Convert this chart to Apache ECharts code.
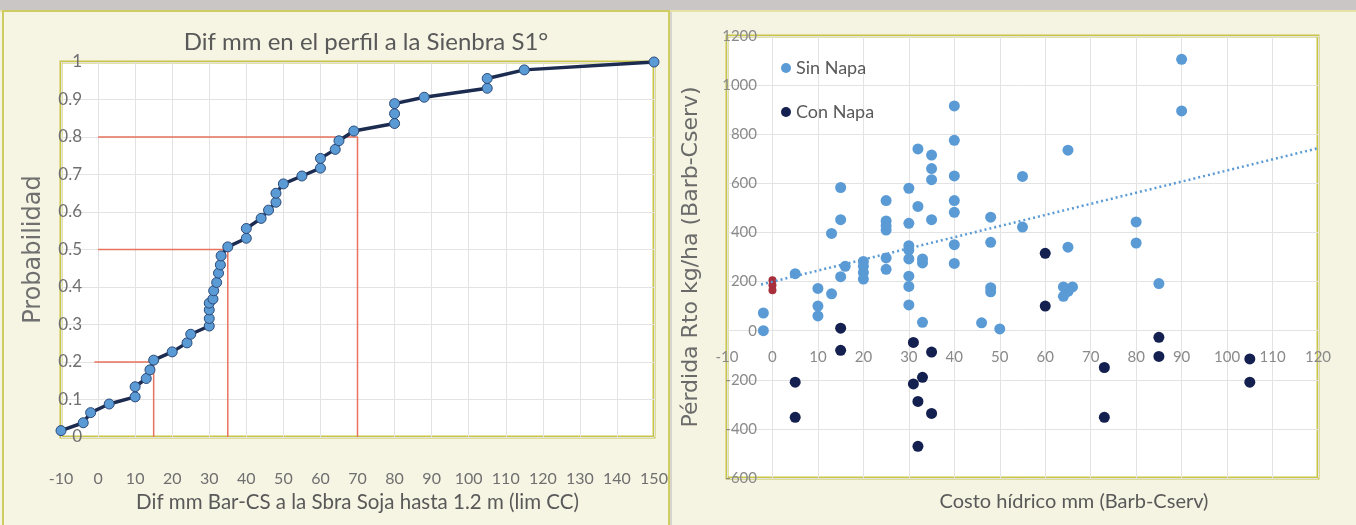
<!DOCTYPE html>
<html>
<head>
<meta charset="utf-8">
<script src="https://cdn.jsdelivr.net/npm/echarts@6/dist/echarts.min.js"></script>
<style>
  html, body { margin: 0; padding: 0; background: #f5f3e1; }
  #chart { width: 1356px; height: 525px; }
</style>
</head>
<body>
<div id="chart"></div>
<script>
// Left panel: cumulative probability of the soil-water difference at sowing
const cdfX = [-10, -4, -2, 3, 10, 10, 13, 14, 15, 20, 24, 25, 30, 30, 30, 30, 31, 31.2, 32, 32.5, 33, 33.2, 35,
  40, 40, 44, 46, 48, 48, 50, 55, 60, 60, 64, 65, 69, 80, 80, 80, 88, 105, 105, 115, 150];
const cdfP = [0.017, 0.038, 0.065, 0.088, 0.107, 0.134, 0.156, 0.179, 0.205, 0.227, 0.251, 0.274, 0.296, 0.316,
  0.339, 0.357, 0.368, 0.39, 0.412, 0.437, 0.459, 0.483, 0.507, 0.53, 0.556, 0.583, 0.605, 0.626, 0.65, 0.675,
  0.696, 0.717, 0.743, 0.767, 0.79, 0.816, 0.836, 0.862, 0.889, 0.906, 0.93, 0.956, 0.979, 1.0];

// Reference guides: probability level, where the guide starts and the x it meets on the curve
const refLevels = [0.2, 0.5, 0.8];
const refStartX = [-1, 0, 0];
const refCrossX = [15, 35, 70];

// Right panel: yield loss vs water cost
const sinNapa = [
  [-2, 72], [-2, 0], [5, 232], [10, 172], [10, 100], [10, 60], [13, 150], [13, 396], [15, 583], [15, 452],
  [15, 220], [16, 262], [20, 282], [20, 262], [20, 237], [20, 210], [25, 530], [25, 447], [25, 427], [25, 410],
  [25, 296], [25, 250], [30, 580], [30, 437], [30, 346], [30, 328], [30, 292], [30, 222], [30, 180], [30, 105],
  [32, 740], [32, 506], [33, 292], [33, 276], [33, 34], [35, 715], [35, 660], [35, 615], [35, 452], [40, 915],
  [40, 775], [40, 630], [40, 530], [40, 482], [40, 350], [40, 274], [46, 32], [48, 462], [48, 360], [48, 175],
  [48, 158], [50, 7], [55, 628], [55, 422], [64, 178], [66, 178], [65, 160], [64, 140], [65, 735], [65, 340],
  [80, 443], [80, 357], [85, 192], [90, 1105], [90, 895]
];
const conNapa = [
  [5, -210], [5, -353], [15, 10], [15, -80], [31, -48], [31, -217], [32, -288], [32, -471], [33, -190],
  [35, -87], [35, -337], [60, 315], [60, 100], [73, -150], [73, -353], [85, -27], [85, -105], [105, -115], [105, -210]
];
const highlight = [[0, 205], [0, 185], [0, 165]];
const trendLine = [[-2.5, 188], [120, 743]];

const gray = '#6f6f6f';
const font = 'Lato, "Liberation Sans", sans-serif';
const wideFont = '"DejaVu Sans", sans-serif';

const chart = echarts.init(document.getElementById('chart'), null, { renderer: 'canvas' });

function refSeries() {
  return refLevels.map((p, i) => ({
    type: 'line', xAxisIndex: 0, yAxisIndex: 0, silent: true, symbol: 'none', z: 2,
    lineStyle: { color: '#e8735e', width: 1.5 },
    data: [[refStartX[i], p], [refCrossX[i], p], [refCrossX[i], 0]]
  }));
}

chart.setOption({
  animation: false,
  backgroundColor: '#f5f3e1',
  textStyle: { fontFamily: font },
  graphic: [
    { type: 'rect', z: -10, shape: { x: 0, y: 0, width: 1356, height: 10 }, style: { fill: '#c9c6c5' } },
    { type: 'line', z: -10, shape: { x1: 0, y1: 11, x2: 1356, y2: 11 }, style: { stroke: '#e6e3a8', lineWidth: 2 } },
    { type: 'rect', z: -9, shape: { x: 3, y: 11, width: 666, height: 520 }, style: { fill: '#f6f4e3', stroke: '#cfcc62', lineWidth: 2 } },
    { type: 'line', z: -9, shape: { x1: 671, y1: 12, x2: 671, y2: 525 }, style: { stroke: '#d6d4cc', lineWidth: 2 } }
  ],
  title: [
    { text: 'Dif mm en el perfil a la Sienbra S1°', left: 361, top: 25, textAlign: 'center',
      textStyle: { fontFamily: font, fontSize: 24, fontWeight: 'normal', color: '#595959' } },
    { text: 'Costo hídrico mm (Barb-Cserv)', left: 1069, top: 487, textAlign: 'center',
      textStyle: { fontFamily: font, fontSize: 20, fontWeight: 'normal', color: '#595959' } }
  ],
  legend: {
    data: ['Sin Napa', 'Con Napa'], orient: 'vertical', left: 776, top: 54, itemGap: 26,
    icon: 'circle', itemWidth: 10, itemHeight: 10,
    textStyle: { fontFamily: font, fontSize: 18, color: '#595959' }
  },
  grid: [
    { left: 61, top: 62, width: 593, height: 375, show: true, backgroundColor: '#ffffff', borderColor: '#c8c548', borderWidth: 3 },
    { left: 727, top: 36, width: 591, height: 442, show: true, backgroundColor: '#ffffff', borderColor: '#c8c548', borderWidth: 3 }
  ],
  xAxis: [
    { gridIndex: 0, type: 'value', min: -10, max: 150, interval: 10,
      axisLine: { show: false }, axisTick: { show: false },
      splitLine: { lineStyle: { color: '#e3e3e3' } },
      axisLabel: { color: gray, fontSize: 16, margin: 34 },
      name: 'Dif mm Bar-CS a la Sbra Soja hasta 1.2 m (lim CC)', nameLocation: 'middle', nameGap: 52,
      nameTextStyle: { color: '#595959', fontSize: 20.5, fontFamily: font } },
    // labels sit along the zero line of the loss axis
    { gridIndex: 1, type: 'value', min: -10, max: 120, interval: 10, offset: -148,
      axisLine: { show: false, onZero: false }, axisTick: { show: false },
      splitLine: { lineStyle: { color: '#e3e3e3' } },
      axisLabel: { color: '#8a8a8a', fontSize: 15, margin: 20 } }
  ],
  yAxis: [
    { gridIndex: 0, type: 'value', min: 0, max: 1, interval: 0.1,
      axisLine: { show: false }, axisTick: { show: false },
      splitLine: { lineStyle: { color: '#e3e3e3' } },
      axisLabel: { color: gray, fontSize: 17, margin: -21 },
      name: 'Probabilidad', nameLocation: 'middle', nameGap: 15,
      nameTextStyle: { color: '#707070', fontSize: 24, fontFamily: wideFont } },
    { gridIndex: 1, type: 'value', min: -600, max: 1200, interval: 200,
      axisLine: { show: false, onZero: false }, axisTick: { show: false },
      splitLine: { lineStyle: { color: '#e3e3e3' } },
      axisLabel: { color: '#8a8a8a', fontSize: 15, margin: -30, formatter: v => String(v) },
      name: 'Pérdida Rto kg/ha (Barb-Cserv)', nameLocation: 'middle', nameGap: 25,
      nameTextStyle: { color: '#6a6a6a', fontSize: 22, fontFamily: wideFont } }
  ],
  series: [
    ...refSeries(),
    { name: 'Probabilidad', type: 'line', xAxisIndex: 0, yAxisIndex: 0, z: 4,
      data: cdfX.map((x, i) => [x, cdfP[i]]),
      lineStyle: { color: '#1c2b50', width: 3.5 },
      symbol: 'circle', symbolSize: 10,
      itemStyle: { color: '#5b9bd5', borderColor: '#2b4a7a', borderWidth: 1 } },
    { name: 'Sin Napa', type: 'scatter', xAxisIndex: 1, yAxisIndex: 1, z: 3,
      data: sinNapa, symbolSize: 11, itemStyle: { color: '#5b9bd5', opacity: 1 } },
    { name: 'Con Napa', type: 'scatter', xAxisIndex: 1, yAxisIndex: 1, z: 3,
      data: conNapa, symbolSize: 11, itemStyle: { color: '#14204f', opacity: 1 } },
    { name: 'Destacado', type: 'scatter', xAxisIndex: 1, yAxisIndex: 1, z: 4,
      data: highlight, symbolSize: 8, itemStyle: { color: '#a8303c', opacity: 1 } },
    { name: 'Tendencia', type: 'line', xAxisIndex: 1, yAxisIndex: 1, z: 5, symbol: 'none', silent: true,
      data: trendLine, lineStyle: { color: '#5b9bd5', width: 2.5, type: [2, 3] } }
  ]
});
</script>
</body>
</html>
